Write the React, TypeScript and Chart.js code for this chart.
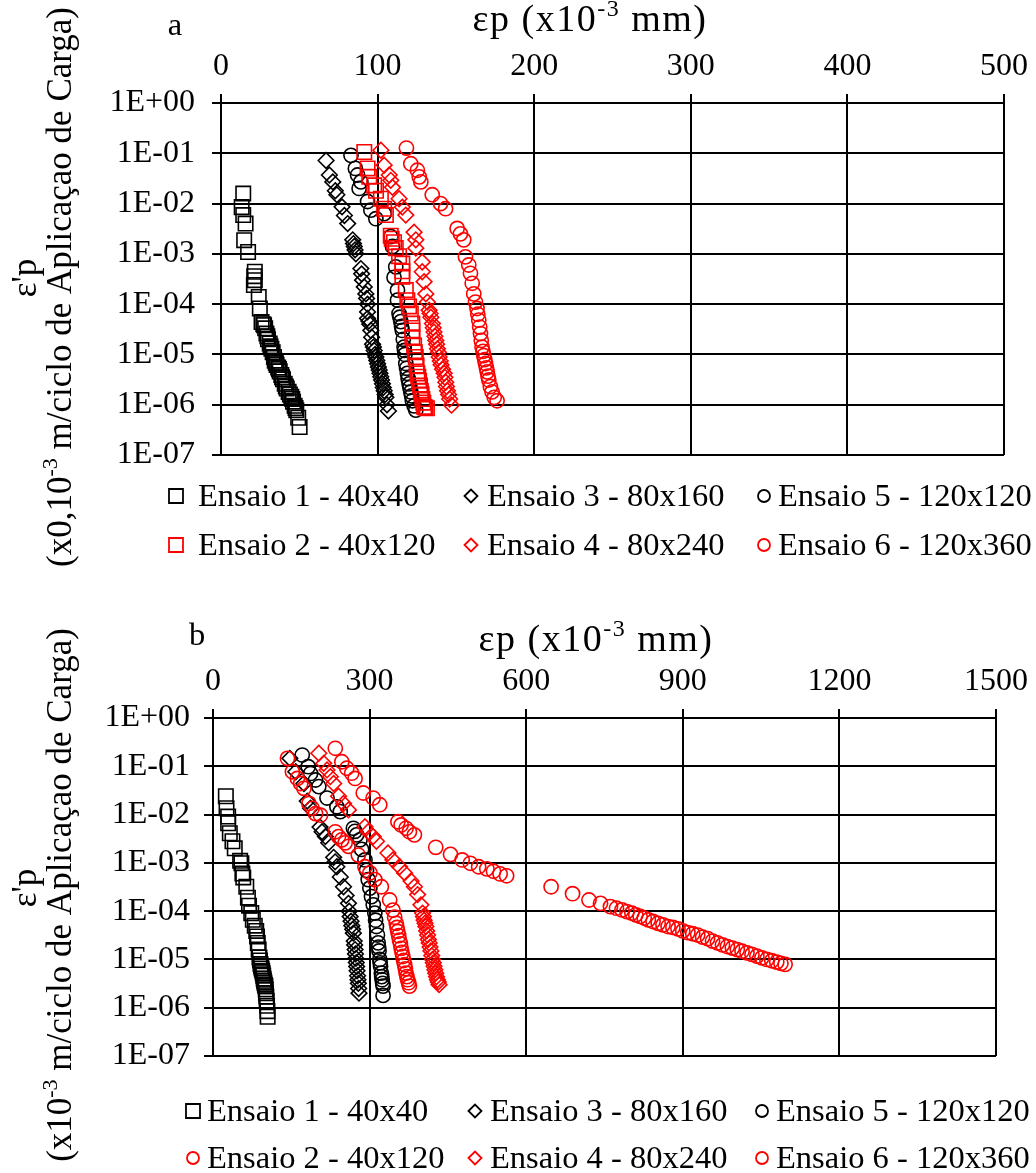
import React, { useEffect, useRef } from 'react';
import { Chart, registerables } from 'chart.js';

Chart.register(...registerables);

const SERIF = '"Liberation Serif", "Times New Roman", serif';
const BLACK = '#000000';
const RED = '#FF0000';

// ---------- shared tick values ----------
const aXTicks = [0, 100, 200, 300, 400, 500];
const bXTicks = [0, 300, 600, 900, 1200, 1500];
const yTicks = [1, 1e-1, 1e-2, 1e-3, 1e-4, 1e-5, 1e-6, 1e-7];

// ---------- panel a ----------
const aLabels = [
  'Ensaio 1 - 40x40',
  'Ensaio 3 - 80x160',
  'Ensaio 5 - 120x120',
  'Ensaio 2 - 40x120',
  'Ensaio 4 - 80x240',
  'Ensaio 6 - 120x360',
];

const a1X = [14.2, 13.2, 14.2, 15.7, 14.8, 17.3, 21.6, 21.2, 21.6, 21.0, 24.1, 24.8, 25.9, 27.0, 27.5, 28.2, 29.0, 29.6, 30.0, 31.1, 31.6, 32.2, 33.0, 33.8, 34.3, 35.0, 35.5, 36.5, 37.0, 37.5, 38.5, 39.0, 39.6, 40.7, 41.4, 42.0, 43.2, 44.0, 44.9, 45.5, 46.0, 47.0, 47.6, 48.1, 49.3, 50.2];
const a1Y = [1.58e-2, 8.5e-3, 5.9e-3, 4.0e-3, 1.87e-3, 1.09e-3, 4.4e-4, 3.6e-4, 3.0e-4, 2.4e-4, 1.39e-4, 8.2e-5, 4.4e-5, 4.0e-5, 3.8e-5, 3.3e-5, 2.6e-5, 2.3e-5, 2.0e-5, 1.65e-5, 1.45e-5, 1.3e-5, 1.1e-5, 8.9e-6, 7.5e-6, 6.8e-6, 6.2e-6, 5.5e-6, 5.1e-6, 4.6e-6, 3.9e-6, 3.5e-6, 3.2e-6, 2.6e-6, 2.3e-6, 2.1e-6, 1.8e-6, 1.6e-6, 1.44e-6, 1.3e-6, 1.15e-6, 9.5e-7, 8.6e-7, 7.8e-7, 5.5e-7, 3.6e-7];

const a3X = [67.1, 69.2, 71.4, 73.0, 74.0, 77.3, 78.8, 80.9, 84.1, 84.6, 85.1, 85.6, 86.1, 89.3, 89.8, 90.4, 91.5, 92.5, 93.0, 93.6, 93.6, 93.6, 94.4, 95.0, 95.7, 96.2, 96.8, 97.3, 97.8, 98.4, 98.9, 99.5, 100.0, 100.5, 101.0, 101.5, 102.0, 102.5, 103.1, 103.6, 104.2, 104.8, 105.3, 106.0, 106.9];
const a3Y = [7.2e-2, 3.7e-2, 2.7e-2, 1.8e-2, 1.5e-2, 8.6e-3, 5.8e-3, 4.0e-3, 1.9e-3, 1.6e-3, 1.4e-3, 1.2e-3, 1.0e-3, 5.1e-4, 4.0e-4, 3.0e-4, 2.2e-4, 1.6e-4, 1.3e-4, 1.0e-4, 7.0e-5, 5.2e-5, 4.6e-5, 4.0e-5, 3.0e-5, 2.2e-5, 1.6e-5, 1.4e-5, 1.2e-5, 1.0e-5, 8.9e-6, 7.6e-6, 6.5e-6, 5.6e-6, 4.9e-6, 4.2e-6, 3.6e-6, 3.1e-6, 2.6e-6, 2.2e-6, 1.9e-6, 1.6e-6, 1.4e-6, 1.0e-6, 7.5e-7];

const a5X = [83.0, 85.8, 87.2, 89.3, 88.2, 93.6, 95.7, 98.9, 104.2, 108.4, 109.5, 111.6, 110.5, 112.7, 112.7, 113.7, 114.2, 114.8, 115.3, 115.8, 116.4, 116.9, 117.2, 117.5, 118.0, 118.5, 119.0, 119.5, 120.1, 120.6, 121.2, 121.7, 122.2, 123.3, 124.4];
const a5Y = [9.1e-2, 5.0e-2, 3.7e-2, 2.7e-2, 2.0e-2, 1.1e-2, 7.4e-3, 5.0e-3, 6.3e-3, 2.2e-3, 1.4e-3, 5.5e-4, 3.4e-4, 1.9e-4, 1.2e-4, 6.5e-5, 5.5e-5, 4.5e-5, 3.6e-5, 3.0e-5, 2.0e-5, 1.4e-5, 1.2e-5, 1.0e-5, 6.6e-6, 5.3e-6, 4.2e-6, 3.3e-6, 2.6e-6, 2.2e-6, 1.8e-6, 1.5e-6, 1.2e-6, 9.5e-7, 7.8e-7];

const a2X = [91.5, 93.6, 94.7, 97.8, 99.0, 102.1, 104.2, 105.3, 108.4, 109.0, 110.5, 111.6, 113.7, 115.8, 115.8, 115.8, 118.0, 119.0, 120.1, 121.2, 122.2, 122.2, 122.2, 123.3, 123.8, 124.4, 124.9, 125.4, 126.0, 126.5, 127.1, 127.6, 128.1, 128.6, 129.2, 129.7, 130.5, 131.5];
const a2Y = [0.106, 5.0e-2, 3.4e-2, 2.3e-2, 1.8e-2, 1.25e-2, 7.9e-3, 5.9e-3, 2.3e-3, 2.0e-3, 1.7e-3, 1.3e-3, 9.0e-4, 6.4e-4, 4.5e-4, 3.5e-4, 1.9e-4, 1.2e-4, 9.0e-5, 6.5e-5, 4.1e-5, 3.0e-5, 2.2e-5, 1.5e-5, 1.1e-5, 8.9e-6, 6.0e-6, 4.2e-6, 3.6e-6, 3.0e-6, 2.4e-6, 1.9e-6, 1.6e-6, 1.3e-6, 1.1e-6, 9.1e-7, 8.8e-7, 8.5e-7];

const a4X = [102.1, 104.2, 107.4, 108.4, 109.5, 113.7, 115.8, 118.0, 123.3, 124.4, 124.4, 128.5, 128.5, 129.7, 130.8, 131.8, 132.9, 133.5, 134.0, 135.0, 135.5, 136.0, 136.6, 137.2, 137.7, 138.2, 138.8, 139.3, 140.0, 140.5, 141.5, 142.5, 143.0, 143.5, 144.0, 144.6, 145.3, 146.0, 147.2];
const a4Y = [0.115, 5.8e-2, 3.7e-2, 2.9e-2, 2.1e-2, 1.25e-2, 8.5e-3, 5.9e-3, 2.7e-3, 1.9e-3, 1.3e-3, 6.9e-4, 4.4e-4, 2.8e-4, 1.6e-4, 1.1e-4, 7.6e-5, 6.5e-5, 5.5e-5, 4.1e-5, 3.4e-5, 2.8e-5, 2.3e-5, 1.9e-5, 1.6e-5, 1.3e-5, 1.1e-5, 8.9e-6, 7.4e-6, 6.2e-6, 5.1e-6, 4.2e-6, 3.5e-6, 2.8e-6, 2.3e-6, 1.9e-6, 1.6e-6, 1.3e-6, 9.8e-7];

const a6X = [118.4, 121.2, 125.4, 126.6, 127.6, 134.9, 140.2, 143.4, 150.8, 152.9, 155.0, 156.1, 158.2, 159.3, 160.4, 161.4, 162.5, 163.5, 164.0, 164.6, 165.2, 165.7, 166.2, 166.7, 167.3, 167.8, 168.4, 168.9, 169.5, 170.0, 170.5, 171.0, 172.0, 173.1, 174.5, 176.3];
const a6Y = [0.127, 6.2e-2, 4.6e-2, 3.4e-2, 2.7e-2, 1.5e-2, 1.0e-2, 7.9e-3, 3.2e-3, 2.5e-3, 1.9e-3, 8.7e-4, 6.0e-4, 4.1e-4, 2.6e-4, 1.6e-4, 1.1e-4, 8.2e-5, 6.3e-5, 4.8e-5, 3.5e-5, 2.6e-5, 1.9e-5, 1.4e-5, 1.15e-5, 9.5e-6, 7.9e-6, 6.6e-6, 5.4e-6, 4.5e-6, 3.7e-6, 3.1e-6, 2.3e-6, 1.8e-6, 1.4e-6, 1.2e-6];

// ---------- panel b ----------
const bLabels = [
  'Ensaio 1 - 40x40',
  'Ensaio 3 - 80x160',
  'Ensaio 5 - 120x120',
  'Ensaio 2 - 40x120',
  'Ensaio 4 - 80x240',
  'Ensaio 6 - 120x360',
];

const b1X = [24.6, 25.9, 29.0, 29.0, 32.2, 37.3, 41.7, 52.0, 54.4, 56.3, 58.0, 63.8, 66.9, 69.0, 73.3, 76.3, 80.0, 82.8, 84.3, 85.8, 87.5, 89.0, 90.0, 91.0, 92.0, 93.0, 94.2, 95.3, 96.2, 97.0, 97.8, 98.5, 99.5, 100.4, 101.0, 101.5, 102.2, 102.8, 103.5, 104.2, 104.7];
const b1Y = [2.4e-2, 1.35e-2, 9.1e-3, 6.6e-3, 4.1e-3, 2.8e-3, 2.0e-3, 1.1e-3, 9.8e-4, 6.0e-4, 5.0e-4, 3.2e-4, 1.9e-4, 1.3e-4, 9.1e-5, 6.6e-5, 5.0e-5, 3.9e-5, 3.0e-5, 2.2e-5, 1.6e-5, 1.1e-5, 9.5e-6, 8.0e-6, 7.2e-6, 6.5e-6, 5.8e-6, 5.2e-6, 4.6e-6, 4.0e-6, 3.6e-6, 3.3e-6, 3.0e-6, 2.8e-6, 2.4e-6, 2.0e-6, 1.7e-6, 1.4e-6, 1.1e-6, 8.5e-7, 6.5e-7];

const b3X = [147.2, 158.5, 174.2, 180.5, 186.9, 205.0, 208.9, 215.3, 221.6, 231.1, 234.0, 237.3, 243.8, 250.0, 255.0, 259.5, 261.0, 262.7, 264.5, 266.0, 267.5, 268.9, 270.5, 271.4, 272.2, 273.0, 273.7, 274.5, 275.2, 276.0, 277.0, 277.7, 278.4, 279.0, 279.7];
const b3Y = [0.146, 7.7e-2, 4.4e-2, 1.9e-2, 1.35e-2, 5.5e-3, 4.4e-3, 3.5e-3, 2.6e-3, 1.3e-3, 1.05e-3, 8.3e-4, 5.1e-4, 3.2e-4, 2.1e-4, 1.45e-4, 1.0e-4, 7.7e-5, 6.2e-5, 5.0e-5, 4.2e-5, 3.5e-5, 2.4e-5, 2.0e-5, 1.6e-5, 1.3e-5, 1.05e-5, 8.6e-6, 7.1e-6, 5.8e-6, 4.6e-6, 3.8e-6, 3.2e-6, 2.5e-6, 2.0e-6];

const b5X = [171.0, 182.4, 186.9, 196.4, 202.7, 218.4, 237.3, 243.8, 268.9, 272.0, 275.2, 281.6, 284.7, 291.1, 294.1, 297.3, 300.5, 303.6, 307.0, 310.0, 311.5, 313.1, 315.0, 316.3, 317.2, 318.0, 319.5, 320.2, 321.0, 322.5, 323.2, 324.0, 325.0, 325.8, 325.8];
const b5Y = [0.171, 9.8e-2, 7.1e-2, 5.2e-2, 3.8e-2, 2.2e-2, 1.45e-2, 1.15e-2, 5.2e-3, 4.5e-3, 3.8e-3, 3.0e-3, 1.9e-3, 1.15e-3, 7.0e-4, 4.5e-4, 3.0e-4, 2.0e-4, 1.35e-4, 9.1e-5, 6.5e-5, 4.8e-5, 3.2e-5, 2.2e-5, 1.8e-5, 1.5e-5, 1.0e-5, 8.5e-6, 7.2e-6, 5.2e-6, 4.4e-6, 3.8e-6, 3.2e-6, 2.8e-6, 1.8e-6];

const b2X = [142.6, 152.1, 161.6, 168.0, 174.2, 183.7, 190.0, 196.4, 205.9, 234.3, 240.5, 246.8, 253.2, 259.5, 278.4, 291.1, 300.6, 310.0, 322.5, 338.4, 344.7, 348.0, 351.0, 352.5, 354.0, 355.7, 357.4, 359.0, 360.5, 362.0, 363.6, 365.2, 367.0, 368.5, 369.9, 371.5, 373.0, 374.7, 376.3];
const b2Y = [0.146, 7.7e-2, 5.6e-2, 4.4e-2, 3.5e-2, 1.7e-2, 1.35e-2, 1.05e-2, 9.7e-3, 4.4e-3, 3.5e-3, 3.0e-3, 2.6e-3, 2.2e-3, 1.45e-3, 8.3e-4, 6.2e-4, 4.5e-4, 3.2e-4, 1.7e-4, 1.05e-4, 7.5e-5, 5.6e-5, 4.6e-5, 3.8e-5, 3.1e-5, 2.5e-5, 2.1e-5, 1.7e-5, 1.4e-5, 1.15e-5, 9.5e-6, 7.8e-6, 6.4e-6, 5.2e-6, 4.4e-6, 3.8e-6, 3.3e-6, 2.8e-6];

const b4X = [202.7, 212.1, 218.4, 224.8, 231.1, 240.5, 250.0, 259.5, 291.1, 297.3, 306.8, 313.1, 335.2, 344.7, 357.4, 366.9, 379.4, 385.8, 392.0, 398.3, 401.5, 403.0, 404.5, 406.2, 407.8, 409.4, 411.0, 412.6, 414.2, 415.8, 417.5, 419.0, 420.5, 422.0, 423.5, 425.0, 426.7, 428.3, 430.0, 431.5, 433.1];
const b4Y = [0.186, 0.115, 8.4e-2, 6.1e-2, 4.4e-2, 2.4e-2, 1.7e-2, 1.25e-2, 5.6e-3, 4.4e-3, 3.5e-3, 2.8e-3, 1.6e-3, 1.15e-3, 8.3e-4, 6.2e-4, 4.2e-4, 3.2e-4, 2.2e-4, 1.35e-4, 9.1e-5, 7.7e-5, 6.5e-5, 5.6e-5, 4.8e-5, 3.9e-5, 3.2e-5, 2.6e-5, 2.2e-5, 1.8e-5, 1.5e-5, 1.2e-5, 1.0e-5, 8.5e-6, 7.2e-6, 6.1e-6, 5.2e-6, 4.4e-6, 3.8e-6, 3.4e-6, 3.0e-6];

const b6X = [234.3, 246.8, 256.3, 265.7, 272.2, 287.9, 306.8, 319.5, 354.2, 360.4, 369.9, 376.3, 385.8, 426.7, 455.0, 477.3, 493.0, 508.9, 524.6, 537.3, 550.0, 562.5, 647.7, 688.8, 720.3, 742.4, 761.4, 773.0, 783.5, 793.0, 802.4, 810.0, 818.2, 826.0, 834.0, 843.0, 852.8, 862.0, 871.8, 881.0, 890.7, 900.0, 909.7, 919.0, 928.6, 938.0, 947.5, 957.0, 966.5, 976.0, 985.4, 995.0, 1004.4, 1013.5, 1023.0, 1032.5, 1042.0, 1051.5, 1061.0, 1070.5, 1080.0, 1088.0, 1096.0];
const b6Y = [0.236, 0.124, 9.1e-2, 7.2e-2, 5.6e-2, 2.8e-2, 2.2e-2, 1.6e-2, 7.1e-3, 6.1e-3, 5.2e-3, 4.4e-3, 3.8e-3, 2.1e-3, 1.5e-3, 1.15e-3, 9.8e-4, 8.3e-4, 7.5e-4, 6.7e-4, 5.9e-4, 5.4e-4, 3.2e-4, 2.3e-4, 1.7e-4, 1.45e-4, 1.24e-4, 1.15e-4, 1.06e-4, 9.8e-5, 9.1e-5, 8.4e-5, 7.8e-5, 7.2e-5, 6.6e-5, 6.1e-5, 5.6e-5, 5.2e-5, 4.8e-5, 4.6e-5, 4.3e-5, 3.9e-5, 3.6e-5, 3.4e-5, 3.2e-5, 2.9e-5, 2.7e-5, 2.4e-5, 2.2e-5, 2.0e-5, 1.85e-5, 1.72e-5, 1.6e-5, 1.48e-5, 1.37e-5, 1.27e-5, 1.17e-5, 1.08e-5, 1.0e-5, 9.4e-6, 8.8e-6, 8.3e-6, 7.9e-6];

// ---------- helpers ----------
type Shape = 'rect' | 'rectRot' | 'circle';

interface SeriesDef {
  label: string;
  xs: number[];
  ys: number[];
  color: string;
  shape: Shape;
}

const RADIUS: Record<Shape, number> = { rect: 10.2, rectRot: 7.8, circle: 7.1 };

const toPoints = (xs: number[], ys: number[]) => xs.map((x, i) => ({ x, y: ys[i] }));

const fmtExp = (v: number) => {
  const e = Math.round(Math.log10(v));
  return '1E' + (e < 0 ? '-' : '+') + String(Math.abs(e)).padStart(2, '0');
};

type Part = { t: string; sup?: boolean };

function drawRich(
  ctx: CanvasRenderingContext2D,
  parts: Part[],
  x: number,
  y: number,
  size: number,
  spacing = 0,
) {
  const supSize = Math.round(size * 0.62);
  const c = ctx as any;
  c.letterSpacing = `${spacing}px`;
  const widths = parts.map((p) => {
    ctx.font = `${p.sup ? supSize : size}px ${SERIF}`;
    return ctx.measureText(p.t).width;
  });
  const total = widths.reduce((s, w) => s + w, 0);
  let cx = x - total / 2;
  ctx.textAlign = 'left';
  ctx.textBaseline = 'middle';
  parts.forEach((p, i) => {
    ctx.font = `${p.sup ? supSize : size}px ${SERIF}`;
    ctx.fillText(p.t, cx, p.sup ? y - size * 0.3 : y);
    cx += widths[i];
  });
  c.letterSpacing = '0px';
}

function drawMarker(ctx: CanvasRenderingContext2D, shape: Shape, x: number, y: number, s: number, color: string) {
  ctx.save();
  ctx.strokeStyle = color;
  ctx.lineWidth = 1.8;
  ctx.beginPath();
  if (shape === 'rect') {
    ctx.rect(x - s, y - s, 2 * s, 2 * s);
  } else if (shape === 'rectRot') {
    ctx.moveTo(x - s, y);
    ctx.lineTo(x, y - s);
    ctx.lineTo(x + s, y);
    ctx.lineTo(x, y + s);
    ctx.closePath();
  } else {
    ctx.arc(x, y, s, 0, Math.PI * 2);
  }
  ctx.stroke();
  ctx.restore();
}

interface PanelCfg {
  top: number;
  height: number;
  axisWidth: number;
  axisHeight: number;
  padRight: number;
  padBottom: number;
  yLabelPad: number;
  xMax: number;
  xTicks: number[];
  series: SeriesDef[];
  letter: string;
  letterPos: [number, number];
  titlePos: [number, number];
  yTitle: Part[];
  yTitlePos: [number, number, number, number];
  legendRows: [number, number];
  legendCols: { mark: number; text: number }[];
  legendMarkSize: Record<Shape, number>;
}

const panelA: PanelCfg = {
  top: 0,
  height: 590,
  axisWidth: 221,
  axisHeight: 103,
  padRight: 28,
  padBottom: 135,
  yLabelPad: 17,
  xMax: 500,
  xTicks: aXTicks,
  series: [
    { label: aLabels[0], xs: a1X, ys: a1Y, color: BLACK, shape: 'rect' },
    { label: aLabels[1], xs: a3X, ys: a3Y, color: BLACK, shape: 'rectRot' },
    { label: aLabels[2], xs: a5X, ys: a5Y, color: BLACK, shape: 'circle' },
    { label: aLabels[3], xs: a2X, ys: a2Y, color: RED, shape: 'rect' },
    { label: aLabels[4], xs: a4X, ys: a4Y, color: RED, shape: 'rectRot' },
    { label: aLabels[5], xs: a6X, ys: a6Y, color: RED, shape: 'circle' },
  ],
  letter: 'a',
  letterPos: [175, 26],
  titlePos: [590, 21],
  yTitle: [{ t: '(x0,10' }, { t: '-3', sup: true }, { t: ' m/ciclo de Aplicaçao de Carga)' }],
  yTitlePos: [27, 278, 62, 287],
  legendRows: [496, 545],
  legendCols: [
    { mark: 176, text: 198 },
    { mark: 471, text: 487 },
    { mark: 764, text: 778 },
  ],
  legendMarkSize: { rect: 7, rectRot: 6.5, circle: 6 },
};

const panelB: PanelCfg = {
  top: 590,
  height: 583,
  axisWidth: 213,
  axisHeight: 128,
  padRight: 31,
  padBottom: 117,
  yLabelPad: 14,
  xMax: 1500,
  xTicks: bXTicks,
  series: [
    { label: bLabels[0], xs: b1X, ys: b1Y, color: BLACK, shape: 'rect' },
    { label: bLabels[1], xs: b3X, ys: b3Y, color: BLACK, shape: 'rectRot' },
    { label: bLabels[2], xs: b5X, ys: b5Y, color: BLACK, shape: 'circle' },
    { label: bLabels[3], xs: b2X, ys: b2Y, color: RED, shape: 'circle' },
    { label: bLabels[4], xs: b4X, ys: b4Y, color: RED, shape: 'rectRot' },
    { label: bLabels[5], xs: b6X, ys: b6Y, color: RED, shape: 'circle' },
  ],
  letter: 'b',
  letterPos: [197, 46],
  titlePos: [596, 51],
  yTitle: [{ t: '(x10' }, { t: '-3', sup: true }, { t: ' m/ciclo de Aplicaçao de Carga)' }],
  yTitlePos: [27, 298, 62, 305],
  legendRows: [521, 568],
  legendCols: [
    { mark: 193, text: 207 },
    { mark: 475, text: 490 },
    { mark: 762, text: 776 },
  ],
  legendMarkSize: { rect: 7, rectRot: 6.5, circle: 6 },
};

const TICK_FONT = 32;
const LEGEND_FONT = 32.5;
const TITLE_FONT = 35;
const X_TITLE_FONT = 38;

function Panel({ cfg }: { cfg: PanelCfg }) {
  const ref = useRef<HTMLCanvasElement | null>(null);

  useEffect(() => {
    const canvas = ref.current;
    if (!canvas) return;

    const decor = {
      id: 'decor',
      afterDraw(chart: Chart) {
        const ctx = chart.ctx;
        ctx.save();
        ctx.fillStyle = BLACK;

        // x-axis title and panel letter
        drawRich(ctx, [{ t: 'εp (x10' }, { t: '-3', sup: true }, { t: ' mm)' }], cfg.titlePos[0], cfg.titlePos[1], X_TITLE_FONT, 1.5);
        drawRich(ctx, [{ t: cfg.letter }], cfg.letterPos[0], cfg.letterPos[1], LEGEND_FONT);

        // y-axis title, two rotated lines
        const [x1, y1, x2, y2] = cfg.yTitlePos;
        ctx.save();
        ctx.translate(x1, y1);
        ctx.rotate(-Math.PI / 2);
        drawRich(ctx, [{ t: "ε'p" }], 0, 0, TITLE_FONT);
        ctx.restore();
        ctx.save();
        ctx.translate(x2, y2);
        ctx.rotate(-Math.PI / 2);
        drawRich(ctx, cfg.yTitle, 0, 0, TITLE_FONT);
        ctx.restore();

        // legend: 3 columns x 2 rows
        cfg.series.forEach((s, i) => {
          const col = cfg.legendCols[i % 3];
          const y = cfg.legendRows[Math.floor(i / 3)];
          drawMarker(ctx, s.shape, col.mark, y, cfg.legendMarkSize[s.shape], s.color);
          ctx.fillStyle = BLACK;
          ctx.font = `${LEGEND_FONT}px ${SERIF}`;
          ctx.textAlign = 'left';
          ctx.textBaseline = 'middle';
          ctx.fillText(s.label, col.text, y + 1);
        });
        ctx.restore();
      },
    };

    const chart = new Chart(canvas, {
      type: 'scatter',
      data: {
        datasets: cfg.series.map((s, i) => ({
          label: s.label,
          data: toPoints(s.xs, s.ys),
          pointStyle: s.shape,
          pointRadius: RADIUS[s.shape],
          pointHoverRadius: RADIUS[s.shape],
          borderColor: s.color,
          backgroundColor: 'rgba(0,0,0,0)',
          pointBorderWidth: 1.6,
          borderWidth: 1.6,
          showLine: false,
          order: cfg.series.length - i,
        })),
      },
      options: {
        animation: false,
        responsive: false,
        devicePixelRatio: 1,
        layout: { padding: { left: 0, top: 0, right: cfg.padRight, bottom: cfg.padBottom } },
        plugins: { legend: { display: false }, tooltip: { enabled: false } },
        scales: {
          x: {
            type: 'linear',
            position: 'top',
            min: 0,
            max: cfg.xMax,
            afterFit: (s: any) => {
              s.height = cfg.axisHeight;
            },
            afterBuildTicks: (s: any) => {
              s.ticks = cfg.xTicks.map((v) => ({ value: v }));
            },
            ticks: {
              color: BLACK,
              font: { family: SERIF, size: TICK_FONT },
              padding: 8,
              maxRotation: 0,
              autoSkip: false,
              callback: (v: any) => String(v),
            },
            grid: { color: BLACK, lineWidth: 2, tickLength: 9, drawTicks: true },
            border: { color: BLACK, width: 2 },
          },
          y: {
            type: 'logarithmic',
            min: 1e-7,
            max: 1,
            afterFit: (s: any) => {
              s.width = cfg.axisWidth;
            },
            afterBuildTicks: (s: any) => {
              s.ticks = yTicks.map((v) => ({ value: v, major: true }));
            },
            ticks: {
              color: BLACK,
              font: { family: SERIF, size: TICK_FONT },
              padding: cfg.yLabelPad,
              autoSkip: false,
              callback: (v: any) => fmtExp(Number(v)),
            },
            grid: { color: BLACK, lineWidth: 2, tickLength: 9, drawTicks: true },
            border: { color: BLACK, width: 2 },
          },
        },
      },
      plugins: [decor],
    });

    return () => chart.destroy();
  }, [cfg]);

  return (
    <canvas
      ref={ref}
      width={1036}
      height={cfg.height}
      style={{ position: 'absolute', left: 0, top: cfg.top, width: 1036, height: cfg.height }}
    />
  );
}

export default function App() {
  return (
    <div style={{ position: 'absolute', left: 0, top: 0, width: 1036, height: 1173, background: '#fff' }}>
      <Panel cfg={panelA} />
      <Panel cfg={panelB} />
    </div>
  );
}
